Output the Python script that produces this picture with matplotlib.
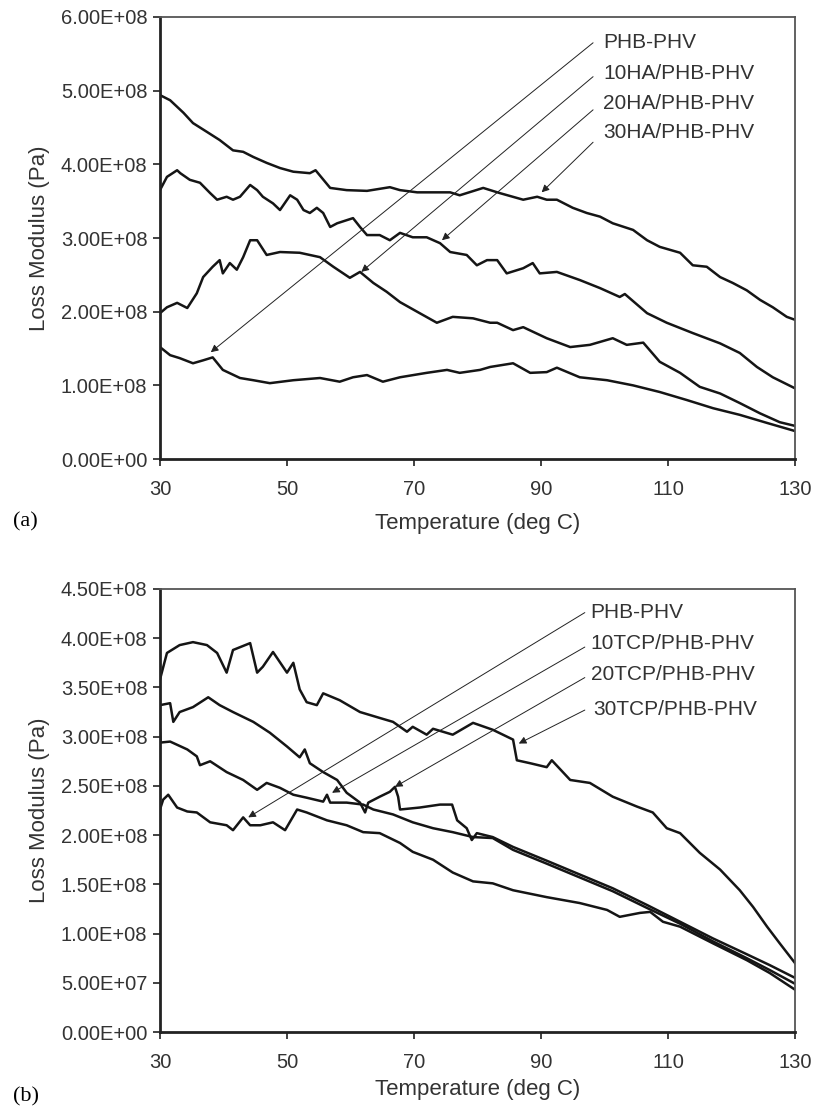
import numpy as np
import matplotlib
matplotlib.use('Agg')
import matplotlib.pyplot as plt

plt.rcParams['font.family'] = ['Liberation Sans', 'DejaVu Sans']

# ---- data, loss modulus in units of 1e8 Pa ----
# panel (a): HA composites
a_T_30HA = [30, 31.6, 33.7, 35.2, 37.4, 39.4, 41.5, 43.1, 44.7, 46.8, 48.9, 51, 53.6, 54.5, 56.8, 59.4,
            62.6, 66.2, 67.8, 70.5, 75.7, 77.2, 80.9, 83.5, 87.2, 89.4, 90.9, 92.5, 95, 97.2, 99.3, 101.3,
            104.5, 106.7, 108.7, 111.9, 113.9, 116.1, 118.2, 120.2, 122.4, 124.5, 126.5, 128.7, 130]
a_v_30HA = [4.94, 4.87, 4.70, 4.56, 4.44, 4.33, 4.19, 4.17, 4.10, 4.02, 3.95, 3.90, 3.88, 3.92, 3.68, 3.65,
            3.64, 3.69, 3.65, 3.62, 3.62, 3.58, 3.68, 3.61, 3.52, 3.56, 3.52, 3.52, 3.41, 3.34, 3.29, 3.20,
            3.11, 2.97, 2.88, 2.80, 2.63, 2.61, 2.47, 2.39, 2.29, 2.16, 2.06, 1.93, 1.89]

a_T_20HA = [30, 31.1, 32.7, 33.2, 34.7, 36.3, 37.9, 39, 40.5, 41.5, 42.6, 44.2, 45.3, 46.2, 47.8, 48.9,
            50.5, 51.6, 52.6, 53.6, 54.7, 55.7, 56.8, 57.9, 60.4, 61.5, 62.6, 64.6, 66.2, 67.8, 69.8, 72,
            74.1, 75.7, 78.3, 79.9, 81.5, 83.1, 84.6, 87.2, 88.7, 89.8, 92.5, 96.1, 99.3, 102.4, 103.2,
            106.7, 109.8, 113.9, 118.2, 121.3, 124, 126.5, 130]
a_v_20HA = [3.65, 3.83, 3.92, 3.88, 3.79, 3.75, 3.61, 3.52, 3.56, 3.52, 3.56, 3.72, 3.65, 3.56, 3.47, 3.38,
            3.58, 3.52, 3.38, 3.34, 3.41, 3.34, 3.15, 3.20, 3.27, 3.15, 3.04, 3.04, 2.97, 3.07, 3.01, 3.01,
            2.93, 2.81, 2.77, 2.63, 2.70, 2.70, 2.52, 2.59, 2.66, 2.52, 2.54, 2.43, 2.32, 2.20, 2.24,
            1.98, 1.85, 1.71, 1.57, 1.44, 1.25, 1.11, 0.96]

a_T_10HA = [30, 31.1, 32.7, 34.3, 35.8, 36.8, 38.3, 39.4, 39.9, 41, 42.1, 43.1, 44.2, 45.3, 46.8, 48.9,
            52, 55.2, 57.3, 59.9, 61.5, 63.6, 65.7, 67.8, 70.9, 73.6, 76.1, 79.3, 82, 83.1, 85.6, 87.2,
            90.9, 94.6, 97.7, 101.3, 103.5, 106.1, 108.7, 111.9, 115, 118.2, 121.3, 124.5, 127.6, 130]
a_v_10HA = [1.98, 2.06, 2.12, 2.05, 2.25, 2.47, 2.61, 2.70, 2.52, 2.66, 2.57, 2.74, 2.97, 2.97, 2.77, 2.81,
            2.80, 2.74, 2.61, 2.46, 2.54, 2.39, 2.27, 2.13, 1.98, 1.85, 1.93, 1.91, 1.85, 1.85, 1.75, 1.79,
            1.64, 1.52, 1.55, 1.64, 1.55, 1.58, 1.32, 1.17, 0.98, 0.89, 0.76, 0.62, 0.50, 0.45]

a_T_PHB = [30, 31.6, 33.1, 35.2, 36.8, 38.3, 39.9, 42.6, 44.7, 47.3, 51, 55.2, 58.3, 60.4, 62.6, 65.1,
           67.8, 72, 75.2, 77.2, 80.4, 82, 85.6, 88.3, 90.9, 92.5, 96.1, 100.4, 104.5, 108.7, 113, 117.1,
           121.3, 125.6, 130]
a_v_PHB = [1.52, 1.41, 1.37, 1.30, 1.34, 1.38, 1.21, 1.10, 1.07, 1.03, 1.07, 1.10, 1.05, 1.11, 1.14, 1.05,
           1.11, 1.17, 1.21, 1.17, 1.21, 1.25, 1.30, 1.17, 1.18, 1.24, 1.11, 1.07, 1.00, 0.91, 0.80, 0.69,
           0.60, 0.49, 0.38]

# panel (b): TCP composites
b_T_30TCP = [30, 31.1, 33.1, 35.2, 37.4, 39, 40.5, 41.5, 44.2, 45.3, 46.2, 47.8, 50, 51, 52, 53.1, 54.7,
             55.7, 58.3, 61.5, 64.6, 66.7, 68.9, 69.8, 72, 73, 76.1, 79.3, 82.4, 85.6, 86.2, 88.3, 90.9,
             91.7, 94.6, 97.7, 101.3, 105.1, 107.6, 109.8, 111.9, 115, 118.2, 121.3, 123.4, 125.6, 127.6, 130]
b_v_30TCP = [3.58, 3.85, 3.93, 3.96, 3.93, 3.85, 3.65, 3.88, 3.95, 3.65, 3.71, 3.86, 3.65, 3.75, 3.48, 3.35,
             3.32, 3.44, 3.37, 3.25, 3.19, 3.15, 3.05, 3.10, 3.02, 3.08, 3.02, 3.14, 3.07, 2.97, 2.76, 2.73,
             2.69, 2.76, 2.56, 2.53, 2.39, 2.29, 2.23, 2.07, 2.02, 1.82, 1.65, 1.44, 1.27, 1.07, 0.90, 0.70]

b_T_20TCP = [30, 31.6, 32.1, 33.1, 35.2, 37.6, 39.4, 41.5, 44.7, 47.3, 50, 52, 52.8, 53.6, 55.7, 57.9,
             59.4, 61.5, 62.3, 62.8, 64.6, 66.2, 67, 67.5, 67.8, 70.9, 74.1, 76, 76.8, 78.3, 79.1, 79.9,
             82.4, 85.6, 90.9, 96.1, 101.3, 106.7, 111.9, 117.1, 122.4, 126, 130]
b_v_20TCP = [3.32, 3.34, 3.15, 3.25, 3.30, 3.40, 3.32, 3.25, 3.15, 3.04, 2.90, 2.79, 2.87, 2.73, 2.64, 2.56,
             2.43, 2.33, 2.23, 2.33, 2.39, 2.44, 2.49, 2.39, 2.26, 2.28, 2.31, 2.31, 2.15, 2.07, 1.95, 2.02,
             1.98, 1.88, 1.74, 1.60, 1.46, 1.29, 1.12, 0.95, 0.79, 0.68, 0.55]

b_T_10TCP = [30, 30.1, 31.6, 34.3, 35.8, 36.3, 37.9, 40.5, 43.1, 45.3, 46.8, 48.9, 51, 53.1, 55.7, 56.3,
             56.8, 59.4, 62, 63.6, 66.7, 69.8, 73, 76.1, 79.3, 82.4, 85.6, 90.9, 96.1, 101.3, 106.7, 111.9,
             117.1, 122.4, 126, 130]
b_v_10TCP = [3.07, 2.94, 2.95, 2.87, 2.80, 2.71, 2.75, 2.64, 2.56, 2.46, 2.53, 2.48, 2.41, 2.38, 2.34, 2.41,
             2.33, 2.33, 2.31, 2.26, 2.21, 2.13, 2.07, 2.03, 1.98, 1.97, 1.85, 1.71, 1.57, 1.43, 1.26, 1.10,
             0.92, 0.75, 0.63, 0.49]

b_T_PHB = [30, 30.5, 31.3, 32.7, 34.3, 35.8, 37.9, 40.5, 41.5, 43.1, 44.2, 45.8, 47.8, 49.7, 51.6, 53.1,
           56.3, 59.4, 62, 64.6, 67.8, 69.8, 73, 76.1, 79.3, 82.4, 85.6, 90.9, 96.1, 100.4, 102.4, 105.6,
           107.2, 109.2, 111.9, 117.1, 122.4, 126, 130]
b_v_PHB = [2.26, 2.36, 2.41, 2.28, 2.24, 2.23, 2.13, 2.10, 2.05, 2.18, 2.10, 2.10, 2.13, 2.05, 2.26, 2.23,
           2.15, 2.10, 2.03, 2.02, 1.92, 1.83, 1.75, 1.62, 1.53, 1.51, 1.44, 1.37, 1.31, 1.24, 1.17, 1.21,
           1.22, 1.12, 1.07, 0.90, 0.73, 0.60, 0.43]

a_labels = ['PHB-PHV', '10HA/PHB-PHV', '20HA/PHB-PHV', '30HA/PHB-PHV']
b_labels = ['PHB-PHV', '10TCP/PHB-PHV', '20TCP/PHB-PHV', '30TCP/PHB-PHV']

x_ticks = [30, 50, 70, 90, 110, 130]
a_y_ticks = [0, 1, 2, 3, 4, 5, 6]
b_y_ticks = [0, 0.5, 1, 1.5, 2, 2.5, 3, 3.5, 4, 4.5]

# annotation geometry (data coords): text anchor, arrow start, arrow tip
a_text = [(99.8, 5.66), (99.8, 5.23), (99.8, 4.82), (99.8, 4.43)]
a_start = [(98.2, 5.65), (98.2, 5.19), (98.2, 4.74), (98.2, 4.30)]
a_tip = [(38.0, 1.45), (61.7, 2.54), (74.4, 2.97), (90.1, 3.62)]
b_text = [(97.8, 4.26), (97.8, 3.95), (97.8, 3.63), (98.3, 3.28)]
b_start = [(96.9, 4.26), (96.9, 3.91), (96.9, 3.60), (96.9, 3.27)]
b_tip = [(43.9, 2.18), (57.1, 2.43), (67.0, 2.49), (86.5, 2.93)]

E8 = 1e8
fig = plt.figure(figsize=(8.17, 11.18), dpi=100)
ax1 = fig.add_axes([0.1958, 0.5894, 0.7773, 0.3954])
ax2 = fig.add_axes([0.1958, 0.0769, 0.7773, 0.3963])


def draw_panel(ax, curves, yticks, texts, starts, tips, labels, xpad):
    for T, v in curves:
        ax.plot(T, np.array(v) * E8, color='#151515', lw=1.8, solid_joinstyle='round')
    for lab, tp, st, tip in zip(labels, texts, starts, tips):
        ax.annotate('', xy=(tip[0], tip[1] * E8), xytext=(st[0], st[1] * E8),
                    arrowprops=dict(arrowstyle='-|>', lw=0.7, color='#222222',
                                    mutation_scale=11, shrinkA=0, shrinkB=0))
        ax.text(tp[0], tp[1] * E8, lab, fontsize=15, ha='left', va='center', color='#333333')
    ax.set_xlim(30, 130)
    ax.set_ylim(yticks[0] * E8, yticks[-1] * E8)
    ax.set_xticks(x_ticks)
    ax.set_yticks([t * E8 for t in yticks])
    ax.set_yticklabels(['{:.2E}'.format(t * E8) for t in yticks])
    ax.tick_params(axis='both', direction='out', length=5, width=1.3, labelsize=14.5,
                   colors='#333333', pad=4)
    ax.tick_params(axis='x', pad=10)
    for side in ['left', 'bottom']:
        ax.spines[side].set_linewidth(2.0)
        ax.spines[side].set_color('#222222')
    for side in ['top', 'right']:
        ax.spines[side].set_linewidth(1.3)
        ax.spines[side].set_color('#555555')
    ax.set_ylabel('Loss Modulus (Pa)', fontsize=16, color='#333333', labelpad=8)
    ax.set_xlabel('Temperature (deg C)', fontsize=16, color='#333333', labelpad=xpad)


draw_panel(ax1, [(a_T_PHB, a_v_PHB), (a_T_10HA, a_v_10HA), (a_T_20HA, a_v_20HA), (a_T_30HA, a_v_30HA)],
           a_y_ticks, a_text, a_start, a_tip, a_labels, 10)
draw_panel(ax2, [(b_T_PHB, b_v_PHB), (b_T_10TCP, b_v_10TCP), (b_T_20TCP, b_v_20TCP), (b_T_30TCP, b_v_30TCP)],
           b_y_ticks, b_text, b_start, b_tip, b_labels, 5)

fig.text(0.016, 0.533, '(a)', fontsize=16, family='Liberation Serif', va='center', ha='left')
fig.text(0.016, 0.019, '(b)', fontsize=16, family='Liberation Serif', va='center', ha='left')

fig.savefig('out.png', dpi=100)
